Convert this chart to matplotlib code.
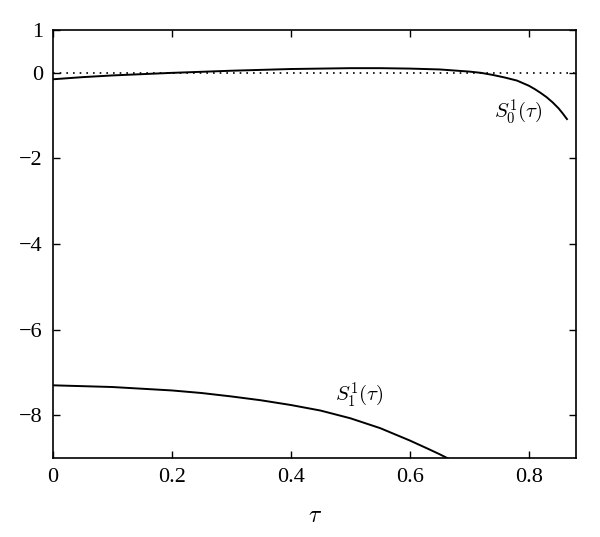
import numpy as np
import matplotlib
matplotlib.use('Agg')
import matplotlib.pyplot as plt

plt.rcParams['font.family'] = 'Liberation Serif'
plt.rcParams['mathtext.fontset'] = 'cm'

############ curve values ###########
tau_s0 = [0, 0.05, 0.1, 0.15, 0.2, 0.3, 0.4, 0.5, 0.55, 0.6, 0.65, 0.7,
          0.72, 0.74, 0.76, 0.78, 0.79, 0.8, 0.81, 0.82, 0.83, 0.84,
          0.85, 0.857, 0.864]
s0 = [-0.15, -0.1, -0.06, -0.03, 0.0, 0.05, 0.09, 0.11, 0.11, 0.1, 0.08, 0.03,
      0.0, -0.05, -0.11, -0.18, -0.24, -0.3, -0.38, -0.47, -0.57, -0.69,
      -0.83, -0.95, -1.08]

tau_s1 = [0, 0.1, 0.2, 0.25, 0.3, 0.35, 0.4, 0.45, 0.5, 0.55, 0.6, 0.63,
          0.65, 0.68]
s1 = [-7.3, -7.34, -7.42, -7.48, -7.56, -7.65, -7.76, -7.89, -8.07, -8.3,
      -8.59, -8.78, -8.91, -9.12]

xticks = [0, 0.2, 0.4, 0.6, 0.8]
yticks = [1, 0, -2, -4, -6, -8]

fig = plt.figure(figsize=(6.0, 5.37), dpi=100)
ax = fig.add_axes([0.0878, 0.147, 0.873, 0.797])

ax.plot([0, 0.88], [0, 0], color='black', linestyle=(0, (1, 3)), linewidth=1.2)
ax.plot(tau_s0, s0, color='black', linewidth=1.4)
ax.plot(tau_s1, s1, color='black', linewidth=1.4)

ax.text(0.782, -0.91, r'$S_0^1(\tau)$', fontsize=15, ha='center', va='center')
ax.text(0.515, -7.52, r'$S_1^1(\tau)$', fontsize=15, ha='center', va='center')

ax.set_xlim(0, 0.88)
ax.set_ylim(-9, 1)
ax.set_xticks(xticks)
ax.set_xticklabels(['0', '0.2', '0.4', '0.6', '0.8'])
ax.set_yticks(yticks)
ax.set_yticklabels(['1', '0', '\u22122', '\u22124', '\u22126', '\u22128'])
ax.tick_params(direction='in', top=True, right=True, length=5, width=1,
               labelsize=16, pad=7)
for sp in ax.spines.values():
    sp.set_linewidth(1.2)

ax.set_xlabel(r'$\tau$', fontsize=17, labelpad=14)

fig.savefig('out.png', dpi=100)
